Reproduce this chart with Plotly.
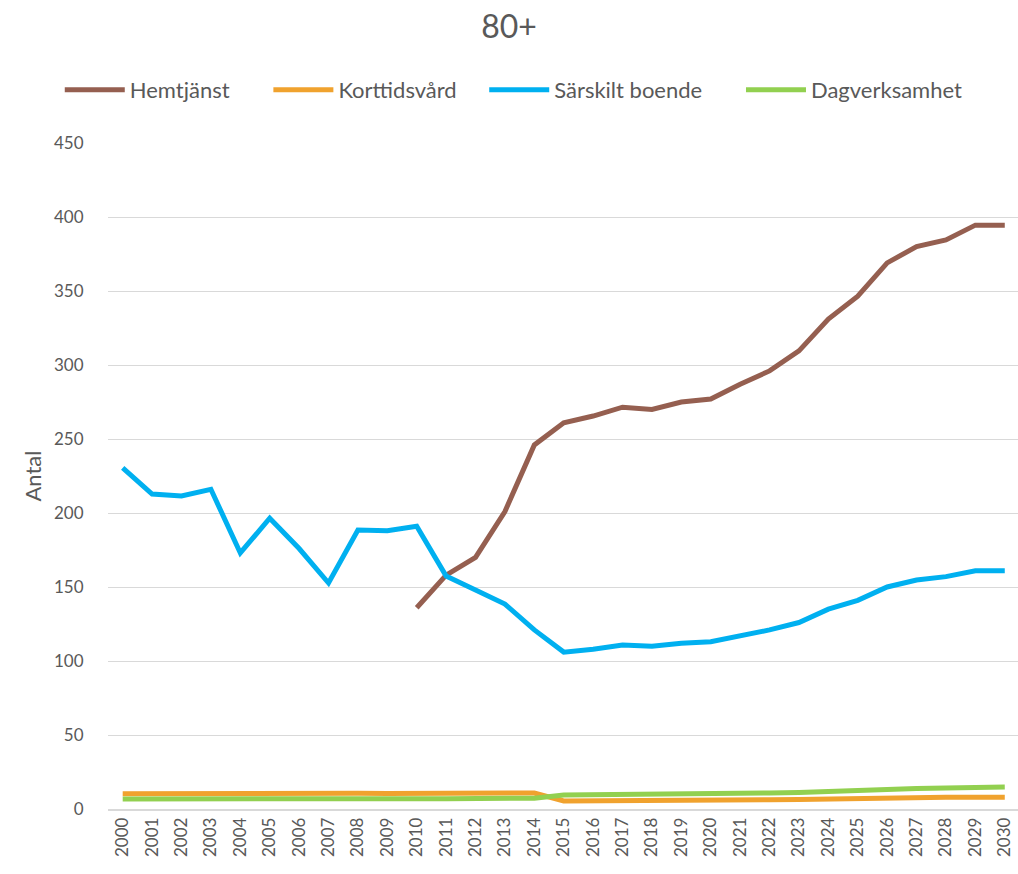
import plotly.graph_objects as go

years = list(range(2000, 2031))

hemtjanst = [None]*10 + [136, 158, 170, 201, 246, 261, 265.5, 271.5, 270, 275, 277,
                         287, 296, 309.5, 331, 346.5, 369, 380, 384.5, 394.5, 394.5]
korttidsvard = [10.3, 10.4, 10.5, 10.6, 10.8, 11, 11, 11, 10.6, 10.5, 10.5, 10.6, 10.5, 10.6, 10.8,
                5.4, 5.4, 5.6, 5.6, 5.7, 5.9, 6.1, 6.2, 6.5, 6.9, 7.2, 7.5, 7.7, 7.9, 8.0, 8.0]
sarskilt = [230.5, 212.8, 211.5, 216, 173, 196.5, 176, 152.7, 188.5, 188, 191,
            157.4, 148, 138.5, 121, 106, 108, 110.8, 110, 112, 113, 117, 121, 126,
            135, 141, 150, 154.7, 157, 161, 161]
dagverksamhet = [6.8, 6.9, 7.0, 7.0, 7.1, 7.2, 7.2, 7.2, 7.0, 7.0, 7.0, 7.0, 7.0, 7.1, 7.3,
                 9.5, 9.6, 9.8, 9.8, 10.0, 10.2, 10.5, 10.8, 11.2, 12.0, 12.6, 13.5, 13.9, 14.2, 14.8, 14.8]

series = [
    ("Hemtjänst", hemtjanst, "#955F50"),
    ("Korttidsvård", korttidsvard, "#F0A22E"),
    ("Särskilt boende", sarskilt, "#00B0F0"),
    ("Dagverksamhet", dagverksamhet, "#92D050"),
]
pads = [6, 4, 6, 0]

fig = go.Figure()
for (name, vals, col), p in zip(series, pads):
    fig.add_trace(go.Scatter(x=years, y=vals, name=name + "\u00a0" * p, mode="lines",
                             line=dict(color=col, width=5), connectgaps=False))

font = "Lato, 'Open Sans', sans-serif"
fig.update_layout(
    width=1018, height=874,
    paper_bgcolor="white", plot_bgcolor="white",
    margin=dict(l=108, r=0, t=143, b=65, autoexpand=False),
    font=dict(family=font, color="#595959"),
    title=dict(text="80+", x=0.5, xanchor="center", y=1 - 27/874, yanchor="middle",
               font=dict(size=32, color="#595959")),
    legend=dict(orientation="h", x=-0.053, xanchor="left", y=1 + 53/666, yanchor="middle",
                font=dict(size=22, color="#595959"), itemwidth=60,
                traceorder="normal"),
    showlegend=True,
)
fig.update_xaxes(range=[1999.5, 2030.45], tickmode="array", tickvals=years,
                 ticktext=[str(y) for y in years], tickangle=-90,
                 tickfont=dict(size=17, color="#595959"), showgrid=False, automargin=False,
                 showline=True, linecolor="#D9D9D9", linewidth=1.5, ticks="", zeroline=False)
fig.update_yaxes(range=[0, 450], dtick=50, tickfont=dict(size=17, color="#595959"),
                 showgrid=True, gridcolor="#D9D9D9", gridwidth=1, zeroline=False,
                 ticks="outside", ticklen=20, tickcolor="rgba(0,0,0,0)", automargin=False,
                 title=dict(text="Antal", font=dict(size=22, color="#595959"), standoff=6))

fig.write_html("out.html", config={"displayModeBar": False},
               post_script="document.body.style.margin='0';")
